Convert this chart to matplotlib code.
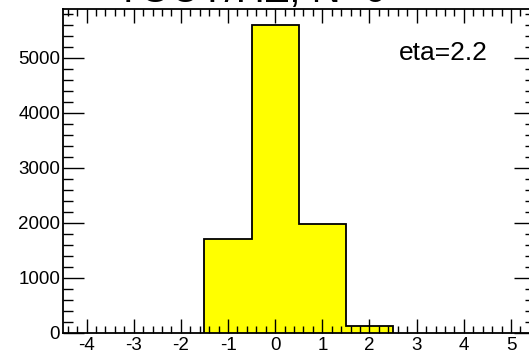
import matplotlib
matplotlib.use("Agg")
import matplotlib.pyplot as plt
from matplotlib.ticker import MultipleLocator
import numpy as np

plt.rcParams['font.family'] = ['Liberation Sans', 'DejaVu Sans']
plt.rcParams['axes.unicode_minus'] = False

# histogram contents
bin_edges = [-1.5, -0.5, 0.5, 1.5, 2.5]
counts = [1710, 5600, 1980, 120]
title = "TOUT/HZ, N=0"
label = "eta=2.2"

fig = plt.figure(figsize=(5.29, 3.53), dpi=100)
ax = fig.add_axes([0.119, 0.0567, 0.8915, 0.918])

ax.stairs(counts, bin_edges, fill=True, color="#ffff00")
ax.stairs(counts, bin_edges, color="black", linewidth=1.3)

ax.set_xlim(-4.5, 5.5)
ax.set_ylim(0, 5890)

ax.xaxis.set_major_locator(MultipleLocator(1))
ax.xaxis.set_minor_locator(MultipleLocator(0.2))
ax.yaxis.set_major_locator(MultipleLocator(1000))
ax.yaxis.set_minor_locator(MultipleLocator(200))
ax.tick_params(which="both", direction="in", top=True, right=True,
               width=1.0, labelsize=13.5)
ax.tick_params(axis="x", which="major", length=10, pad=3)
ax.tick_params(axis="x", which="minor", length=5)
ax.tick_params(axis="y", which="major", length=15, pad=2)
ax.tick_params(axis="y", which="minor", length=7)
for s in ax.spines.values():
    s.set_linewidth(1.3)

ax.text(0.807, 0.864, label, transform=ax.transAxes, fontsize=19,
        ha="center", va="center")
# title sits mostly above the canvas, only its lower edge shows
fig.text(0.475, 0.993, title, fontsize=29, ha="center", va="baseline")

fig.savefig("out.png", dpi=100)
